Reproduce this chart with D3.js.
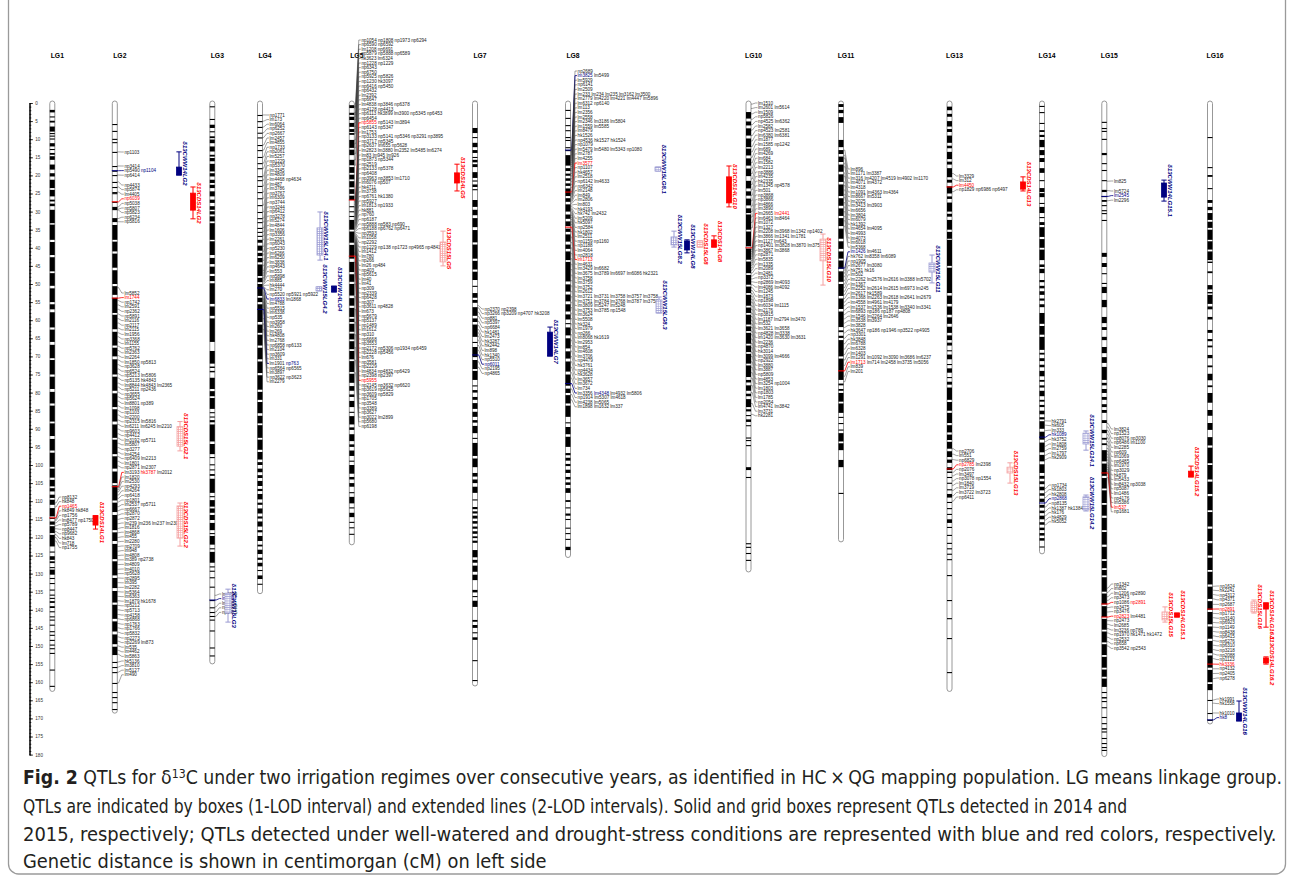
<!DOCTYPE html>
<html>
<head>
<meta charset="utf-8">
<script src="https://cdn.jsdelivr.net/npm/d3@7"></script>
<style>
  body { margin: 0; background: #fff; }
  svg { display: block; }
</style>
</head>
<body>
<svg id="chart" width="1293" height="879"></svg>
<script>
// ---- linkage groups ----
const lgNames = ['LG1', 'LG2', 'LG3', 'LG4', 'LG5', 'LG7', 'LG8', 'LG10', 'LG11', 'LG13', 'LG14', 'LG15', 'LG16'];
const lgLengths = [162, 168, 154.4, 135, 121.5, 160.5, 125, 129, 120.7, 162, 124, 180, 171];
const axisTicks = [0, 5, 10, 15, 20, 25, 30, 35, 40, 45, 50, 55, 60, 65, 70, 75, 80, 85, 90, 95, 100, 105, 110, 115, 120, 125, 130, 135, 140, 145, 150, 155, 160, 165, 170, 175, 180];

// marker bands on each linkage group (cM); a number is a single marker, a pair is a run of markers
const bandsLG1 = [[1.9,2.6],3.7,[4.9,5.4],[6.5,7.9],[8.3,8.6],[9.0,9.3],[9.8,10.1],[11.1,12],12.7,[13.8,14.3],[14.7,15.7],[17,18.4],[19.4,20.3],[21.2,23.5],[24,25.8],[26.7,27.2],[27.8,28.5],[29.5,33.2],[33.6,37.8],[38.4,42],[42.6,46.5],[47,50.5],[51.2,55],[55.6,57],[57.8,62],[62.6,66],[66.8,70.5],[71,75],[75.6,79],[79.8,83],[83.6,88],[88.5,92],[92.8,96],[96.6,100.5],[101,103.5],[104.1,105.9],[106.4,107.3],[108.2,109.1],[109.6,111],[111.9,114.2],114.6,[115.6,116.5],[116.9,118.8],[119.3,122.5],123.9,[125.2,126.2],[126.6,127.1],128.2,[128.9,130.3],131.2,132.6,134.4,135.8,136.7,[137.6,138.1],[139,139.5],140.4,141.8,142.7,144.1,145.9,146.9,148.3,149.6,150.6,151.9,156.5,161];
const bandsLG2 = [5.8,7.7,9.9,[10.8,11.1],13.5,17.4,18.7,19.9,21.8,23.2,24.6,24.9,27.3,28.7,[29,29.6],[31.8,32.9],[33.7,37.8],[38.3,41],[41.6,45.5],[46.2,50],[50.6,53],[53.8,58],[58.5,62.5],[63.2,67],[67.6,70],[70.8,75],[75.6,79.5],[80.2,84],[84.6,88],[88.8,92.5],[93,97],[97.6,101],[101.8,105],[105.6,109.8],[110.4,113],[113.8,118],[118.6,121],[121.8,126],[126.6,130.5],[131.2,134],[134.8,138],[138.6,142.5],[143.2,146],[146.8,149.5],[150.2,152.5],154.4,155.8,157.2,160.2,162.7,164.1,165.5,167.4];
const bandsLG3 = [0.9,4.4,[6,6.9],7.8,[9.2,9.7],[10.1,11.1],[12,13.4],[14.3,14.8],[15.2,16.1],[16.8,18.9],[19.4,20.3],[21.2,22.1],[22.6,23.5],[24.4,25.8],[26.7,27.6],[28.5,29.5],[29.9,30.8],[31.3,32.7],[33.2,37.8],[38.2,42],[42.8,44.5],[45.2,47.2],[47.8,49.2],[49.8,55.5],[56.2,58.8],[59.5,66],[68.5,72],[72.8,73.2],[74,74.4],[75.9,79],[79.6,81],[81.5,84.5],85.4,86.6,[87.6,88.2],[88.8,93.5],[94.2,97],97.8,99.8,101.2,[102.5,103],[103.8,107.7],108.6,[109.7,111.5],[112,113.2],[113.8,115.2],[116,118],118.8,[119.6,122],123,[124,127],128,129.2,131,133.6,137.3,139.3,140.6,141.7,142.7,145.7,150.4,152.6];
const bandsLG4 = [3.3,5,6.6,8.2,9.5,11.6,13,14.9,16.6,18,20.2,21.3,22.9,24.6,26.3,28.2,30.1,31.8,32.9,34.5,35.6,36.7,[37.8,38.6],[39.4,40.8],[41.4,42.3],[42.8,44],[44.6,47.8],[48.3,49.5],[50,53.3],[53.8,55],[55.6,60.5],[61.2,63.5],[64,67],[67.6,70.8],[71.4,74.6],[75.2,79.2],[79.8,82],[82.6,85.7],[86.4,88.5],[89,92.5],[93,95.8],[96.4,98.5],[99.2,100],[101,102],[102.8,103.6],[104.4,105.8],[106.6,107.2],[108,109.5],[110.4,111],[112,113.4],[114.2,114.8],[115.6,117],[118,118.6],[119.6,121],[122,122.5],[123.4,124.6],[125.6,126.2],[127,128],129,[130.5,131.5],132.8];
const bandsLG5 = [[0.6,1.4],[2.7,3.3],[3.8,4.7],[5.5,6.6],[7.2,8],[8.3,8.8],[10.2,12.4],[12.9,14.4],[15.7,17.2],[17.7,19.3],[19.8,21.1],[21.6,23.3],[23.8,25.1],[25.6,26.8],28.5,29.9,31.2,[32.3,35],[35.5,38.6],[39.2,43],[43.9,46.7],[47.3,49.4],[50,53.2],[53.9,56],[56.6,59.1],[59.6,60.5],[61,63.2],[63.7,65.3],[65.8,68],[68.5,70.8],[71.3,74.3],[74.8,77.3],[78.2,79.5],[80.5,81.2],[82.3,84],85.3,[86.5,88.8],[89.6,90.3],[91.5,93.4],[94.3,95],[96,97.5],98.8,[100,102.4],[103.3,104],[105,106],107.5,[108.8,110.6],111.7,[113.2,114.4],115.7,117.2,119];
const bandsLG7 = [[6.9,8.3],9.4,[11,12.2],[13,13.8],14.9,[15.7,16.4],[16.9,17.7],[19.1,20.7],21.4,[22.5,23.2],23.8,[26.8,28.7],[29.5,31],[31.8,34.3],[35.1,38.5],[39.1,43],[43.6,46],[46.6,48.9],50.5,[52.5,53.8],[54.4,55.2],[56.4,58.8],[59.5,60.5],[61.2,64.6],66,[67.4,70.2],[71,73.5],[74,76.5],78,[79.3,80],[81.2,82],[82.9,84.5],[85.3,86.7],[87.6,88.3],[89.2,91.2],92.5,[93.9,97.5],[98.2,100.6],[102.2,103.2],[104,105],[106,107.7],109.5,[111.6,112.2],[112.8,113.4],[114,114.8],[115.5,116.2],[117,117.6],[118.3,119],[119.7,120.2],[120.9,121.5],[123.5,125.5],[126.2,127],[127.8,129.5],[130.3,131.8],[134.5,135.2],136.2,[137.5,139.2],[142.8,143.3],[144.2,145],146.2,[147.6,148.3],153.9,159.4];
const bandsLG8 = [1.9,4.1,6.1,7.5,9.4,10.2,12.2,13,[14.4,17.3],[18,18.8],[19.5,20.1],[20.8,21.5],[22.2,22.9],[23.6,25.7],[26.3,27.3],[28,30],[30.8,32],[32.7,34],[34.7,35.6],[36.3,38.3],[39.1,40.3],[41,43.4],[43.9,49.3],[50.1,52.1],[52.9,54.8],[55.6,57.6],[58.4,59.8],60.8,[62,64.2],[65,67.8],[68.6,70.6],[71.4,74.2],[75,78.1],[78.9,80.1],[80.7,83],[83.6,86.7],88.2,[89.5,91.5],[92.2,95],[96.7,97.3],[98,98.8],[99.7,100.3],[101.3,102.2],[103.3,104],[104.8,105.5],[106.4,107.7],[109.7,110.2],111.7,[113.4,114],114.9,117.3,118.8,120.4,[122.6,123.5]];
const bandsLG10 = [[2.5,4.3],[5.1,6.2],[7,9],[9.8,12.2],[12.6,14.5],[15.3,17.3],[18.1,20.2],[21.5,23.6],[24.4,25.6],[26.4,28.3],[29.1,30.4],[30.8,35],[35.5,39.6],[40.2,43.3],[43.8,47],[47.5,50.2],[50.7,52.5],[53,56],[56.5,58],[58.5,61.2],[61.7,63],[63.5,66.5],[67,68.8],[69.3,72],[72.5,75.7],[76.5,77.2],[78,79.5],[80.3,81],[81.8,84],[84.6,85.2],86.2,[87.4,88.1],89,92.4,93.1,94.5,[100.6,101.4],103.3,121.6,122.6,124.3,126.2];
const bandsLG11 = [[0.3,1.1],[1.9,2.8],[3.9,5.5],[10.2,12.2],[13,14.1],[14.8,16.3],[17,19],[19.7,21.8],[22.5,25.7],[26.3,28.4],[29.1,31.2],[31.8,34],[34.7,37.5],[38.2,40.3],[41,43],[43.5,45.8],[46.5,49.4],[50,53.3],[54,56.9],[57.6,61.9],[62.8,63.3],[64.3,64.9],[65.5,70],[70.6,76.5],[77.5,78],[79,79.5],[80.1,82.5],[83,85.6],86.7,88.4,90.2,[91.2,93.5],[94,95.9],[98.6,100.6],107.7];
const bandsLG13 = [[1,2],[3,3.8],[5,6.5],[7.2,8],[9,11],[11.8,12.5],[13.5,15.5],[16.2,17],[18,20.5],[21.2,22],[23,25],[25.8,26.5],[27.5,30],[30.6,31.4],[32.3,35],[35.6,37.5],[37.8,45],[45.5,52.5],[53.2,55.5],[56.2,58.5],[59.2,61],[61.8,63.5],[64.2,65.5],[66.2,67],68.3,[69.5,70.8],72.1,[73.3,74.5],75.7,[77,77.8],[78.6,82],[82.6,85],[85.6,88.4],[89,91],[91.6,93.1],[93.6,95.5],[96.2,97.8],[98.5,99.4],[100.6,101.4],[101.8,102.2],103.3,104.9,106.7,[108,109],110.2,111.9,113.5,[115,116],117.1,119.3,121.5,123,124.5,126,130.4,137.3,142.3,147.8,157.2];
const bandsLG14 = [0.8,2.5,5.5,[7.5,8],[8.8,9.4],[10.2,12.2],[13,14.4],[15.2,16.3],[18,19.3],21.3,[23.5,24.6],[24.9,26],27.6,[28.7,30.4],31.5,[32.9,33.7],[34.3,37],[37.6,40],[40.5,43.4],[44.6,45.3],[45.8,47],[48.9,49.5],[50.5,51.2],[52,53],[54,54.6],[55.6,56.4],[58,61],[61.6,64],[64.6,68.2],[69,69.5],[70.5,71.3],[72.3,73],[74,75.5],[76.5,77],[78,78.6],[79.5,81],[82,82.5],[83.4,84],[85,86],[86.8,87.4],[87.9,90],[90.8,93],[93.8,96.5],[97.2,99],[99.8,102.2],[103,103.8],[104.5,105.3],[106,107],[107.8,108.5],[109.3,110.2],[111,111.8],[112.6,113.3],[114,115],[115.8,116.5],[117.3,118],[118.8,119.5],[120.2,120.9],122.5];
const bandsLG15 = [[5.2,5.5],[6.9,7.2],[7.7,8],9.9,[13.8,14.4],16.6,18.5,21.3,[24,24.6],25.7,[26.8,27.3],28.2,29.6,30.4,32.3,[41.4,42.5],[44.2,45.3],47,49.7,[50.8,52.5],[54.4,56.4],[59.1,60.8],[61.9,62.7],[64.6,65.5],[67.4,69.1],[70.2,71.8],[72.9,76.5],[77.3,78],[79,80.1],[81.2,82],[83.2,84],[84.8,85.6],[87.6,88.4],[90.3,91.2],[92.5,93],[94,94.5],[95.9,99],[99.6,103],[103.6,106.5],[107,110.5],[111,114],[114.6,118],[118.5,122],[122.6,126],[126.5,128.5],[129,130.5],[131,135],[135.5,138.5],[139,142],[142.5,145.5],[146,149],[149.5,152.5],[153,156],[156.5,158.5],[159,161.3],162.7,[164.1,164.5],165.2,166.9,169.6,171.3,[172.7,173.1],173.6,175.4,176.8,177.9,178.7];
const bandsLG16 = [9.4,17.7,[19.9,20.4],23.5,[26.8,27.6],[28.7,29.6],[30.4,32.3],[32.8,34.5],[35,37.8],[38.2,40.5],[41,43.4],[43.8,44.2],[46.5,47],[50.3,51.5],[52.2,52.6],[53,55.5],[56.2,57],[59.1,59.8],[62.7,63.5],[65.2,65.8],[67,67.5],[69.6,70.5],[72.5,73],[74.8,76.6],[78,78.5],[80.1,82.8],[84.8,86.4],[88.4,90.3],[92.3,94.6],[95.2,99.5],[100,104],[104.6,108],[108.6,112.5],[113,117],[117.6,121],[121.6,125],[125.6,129],[129.5,133],[133.6,137],[137.6,140],[140.6,144],[144.6,148],[148.6,152],[152.6,156],[156.6,160],[160.5,162.2],164.9,168.5,170.4];

// ---- marker labels (name rows) and the position of the marker each row points to (cM) ----
const lg1Markers = ['np8132','hk848','np1465','hk849 hk848','np1756','lm8477 np1750','np5789','np8447','np9682','hk843','lm718','np1755'];
const lg1MarkerCM = [110.5,111.6,114.6,115.0,115.4,116.0,116.8,117.6,118.4,119.2,120.0,121.0];
const lg2MarkersA = ['np1103'];
const lg2MarkerCMA = [13.5];
const lg2MarkersB = ['np3414','np5490 np1104','np6414'];
const lg2MarkerCMB = [17.4,18.7,19.9];
const lg2MarkersC = ['np4433','np5874','lm4405','np6039','np5038','np5807','np5823','np6234','np5816'];
const lg2MarkerCMC = [21.8,23.2,24.6,27.3,28.7,29.3,29.6,31.9,32.8];
const lg2MarkersD = ['lm5852','lm1744','np1742','lm2591','np2362','np5891','lm2116','np2117','lm2115','lm1956',
  'np3368','lm1155','np5762','lm2363','lm2264','lm1850 np5813','np3628','np6524','np5213 lm5806','np5135 hk4843',
  'lm8844 hk4843 lm2365','np5211 np2436','np3655','np5624','lm8801 np389','lm1098','np1103','lm2200','np2315 lm5816','lm6211 lm6245 lm2210',
  'np9603','np4412','lm3192 np5711','lm5807','np3277','lm4254','np6409 lm2213','lm1801','np2871 lm2307','lm3193 hk3787 lm2012',
  'lm1820','lm2530','np4293','lm4264','np6418','np1801','lm2537 np5711','np6667','np2870','np2872',
  'lm239 lm236 lm237 lm230','lm1816','lm4868','lm455','lm2280','np2709','lm948','lm4808','lm389 np2738','lm4809',
  'lm4010','np5628','np2895','lm395','lm2282','lm5364','lm6363','lm1879 hk1678','np5212','np5713',
  'np4158','np6868','np1763','np1766','np5832','np2273','np2269 lm873','lm535','lm4462','lm5863',
  'hk5136','lm3810','lm5127','lm490'];
const lg2MarkerCMD = [51.0,53.9,54.6,55.8,57.0,58.3,59.6,60.8,62.2,63.5,64.6,66.0,67.2,68.4,69.8,71.0,72.3,73.5,74.8,76.0,
  77.4,78.5,79.9,81.2,82.4,83.7,85.0,86.2,87.6,88.8,90.1,91.4,92.6,94.0,95.2,96.5,97.7,99.0,100.3,106.0,
  106.3,106.8,107.4,108.3,109.2,110.2,111.5,112.6,113.8,115.0,116.2,117.5,118.7,120.0,121.2,122.5,123.8,125.0,126.2,127.5,
  128.8,130.0,131.2,132.5,133.8,135.0,136.3,137.5,138.8,140.0,141.3,142.5,143.8,145.0,146.2,147.5,148.7,150.0,151.2,152.3,
  154.4,155.8,157.2,160.2];
const lg3Markers = ['lm4299','lm2847','lm3001','np3502','np1425'];
const lg3MarkerCM = [136.0,137.3,139.2,140.6,141.8];
const lg4Markers = ['np1771','lm173','lm6064','np6252','np2667','lm2457','lm4855','np1733','np2061','lm5257',
  'np1229','np5370','lm3345','lm4809','lm4468 np4634','lm487','lm3786','np3767','lm6309','np3744',
  'np3244','np6412','np3278','lm5274','lm4844','lm1606','np3356','lm2261','np6043',
  'np5230','lm6266','lm6250','lm3838','np4643','lm553','np5898','lm885','hk4444','lm270',
  'np5520 np5921 np5922','lm6833 lm1868','lm4788','np5515','lm6338','np535','np3958','lm260','lm269','hk4808',
  'lm2768','np6858 np6133','lm2104','np3609','lm331','lm1901 np763','np6564 np6565','lm3897','np3622 np3623','lm2279'];
const lg4MarkerCM = [3.3,5.0,6.6,8.2,9.5,11.6,13.0,14.9,16.6,18.0,20.2,21.3,22.9,24.6,26.3,28.2,30.1,31.8,32.9,34.5,
  35.6,36.7,37.8,39.6,41.0,42.0,43.5,45.0,46.3,
  47.0,47.6,48.2,48.6,49.0,49.4,49.8,50.1,50.4,50.7,50.9,51.1,51.5,51.9,52.3,52.7,53.1,53.5,53.9,54.3,
  54.7,55.1,55.5,55.9,56.3,57.0,58.0,59.5,61.0,62.5];
const lg5Markers = ['np1054 np1808 np1973 np6294','np6590 np6592','lm1208 np6691','np5879 np5888 np6589','hk3623 lm6324','np1228 np1229','np6343','np6750','np5925 np5826','np1230 hk3097',
  'np6416 np5450','np6432','lm2392','np6647','lm4838 np3846 np6378','np4128 np4413','np6113 hk3899 lm3900 np5345 np6453','np6454','np5855 np5143 lm3894','np6143 np5347',
  'lm1753','np3133 np5141 np5346 np3291 np3895','np3717 np5345','np2637 lm655 np5628','lm2823 lm3880 lm2352 lm5485 lm6274','lm83 lm945 lm926','np1873 np5344','np2519','np2133 np5378','np6408',
  'np3963 np3853 lm1710','lm6076 np507','hk4711','lm3738','np6761 hk1380','np5927','lm1813 np1933','hk881','np760','np6187',
  'np5888 np583 np690','np6188 np6762 np6471','np3593','lm1058','np2292','np1229 np138 np1723 np4965 np4841','lm1412','lm780','np266','lm26 np484',
  'np403','np5615','lm40','lm41','np309','np2339','np6428','np307','np3611 np4828','lm673',
  'np5679','np5137','np1489','lm1612','np310','np6668','np3553','np2172 np5306 np1934 np6459','np2228 np5456','lm676',
  'np3581','np2229','lm4834 np4832 np6429','np2398 np2397','np5955','np2145 np3632 np6620','np3619 np5625','np3609 np5829','np1705','np3548',
  'np3389','np3627','np3022 lm2899','np5680','np6198'];
const lg5MarkerCM = [0.3,1.0,1.4,2.7,3.3,3.8,4.7,5.5,6.6,7.2,8.0,8.5,10.2,11.3,12.4,14.0,15.7,17.2,26.8,
  27.2,27.6,28.0,28.5,28.9,29.3,29.8,30.2,30.6,31.0,31.4,31.8,32.2,32.6,33.0,33.3,33.6,33.9,34.2,34.5,
  34.8,35.1,35.4,35.7,36.0,36.3,36.6,36.9,37.2,37.5,37.8,38.1,38.4,38.6,38.8,39.0,39.2,39.4,39.6,39.8,
  40.0,40.2,40.4,40.6,40.8,41.0,41.2,41.3,41.4,41.5,41.6,41.7,41.8,41.9,42.0,42.3,
  44.0,47.0,50.0,53.5,57.0,60.5,64.0,67.5,71.0,74.5];
const lg7Markers = ['np2370 np2398','np3266 np3209 np4707 hk3208','np881','np5397','np6684','hk1481','lm2473','hk3287','hk2442','lm898','hk1340','np5510','np6011','np2195','np4865'];
const lg7MarkerCM = [56.0,56.6,57.8,59.0,60.3,61.5,62.6,63.5,64.4,65.5,67.0,68.3,69.6,71.5,73.0];
const lg8Markers = ['np2689','lm3825 lm5499','lm5929','np6141','lm2509','lm233 lm234 lm235 lm3162 lm3500','lm2779 lm4220 lm4221 lm4447 lm5896','lm6312 np6140','lm113','lm2356',
  'lm2558','lm2346 lm3186 lm5804','lm1559 lm5585','lm8479','hk1526','np4536 hk1527 hk1524','np1079','lm5479 lm5480 lm5343 np1080','lm2787','lm4255',
  'lm3577','np1107','hk4657','lm2518','np6142 lm4633','np6342','lm2148','lm849','lm2806','lm803',
  'hk4193','hk742 lm2432','lm5209','hk5097','np2584','hk1802','lm2511','np1159 np1160','np1188','lm4064',
  'np2818','lm1713','lm4631','lm3429 lm6682','lm3675 lm3789 lm6697 lm6086 hk2321','lm3758','lm3759','lm3752','lm2612','lm3721 lm3731 lm3758 lm3757 lm3758',
  'lm3751 lm3784 lm3768 lm3787 lm3758','lm3809 lm5247 lm5248','lm3753 lm3785 np1548','lm3624','lm5508','hk324','lm1979','np266','lm8068 hk1619','lm2953',
  'lm854','lm4608','lm3706','np4479','hk3761','np4434','hk3628','lm3657','lm3672','lm734',
  'lm3356 lm4348 lm4932 lm5806','np1914 lm5307 lm4618','lm4238 lm5065','lm1898 lm1632 lm337'];
const lg8MarkerCM = [12.5,13.0,13.4,13.8,14.2,14.6,15.0,15.5,16.0,16.5,17.0,17.6,18.2,18.8,19.5,20.2,21.0,21.8,22.6,23.4,
  24.6,25.0,25.4,25.8,26.2,26.6,27.0,27.4,27.8,28.2,28.6,29.0,29.4,29.8,30.2,30.6,31.0,31.6,32.2,32.8,33.5,
  34.3,35.5,37.0,38.5,40.0,41.5,43.0,44.5,46.0,47.5,49.0,50.5,52.0,53.5,55.0,56.5,58.0,59.5,61.0,62.5,
  64.0,65.5,67.0,68.5,70.0,71.5,73.0,74.5,76.0,77.5,79.0,80.5,82.0];
const lg10Markers = ['lm1510','lm2601 lm5614','lm1509','np5826','np4525 lm6362','lm2582','np4523 lm2581','lm6380 lm6381','lm1877','lm1585 np1242',
  'lm689','lm4269','lm684','lm1582','lm2213','np3886','lm4235','hk2335','lm1345 np4578','lm501',
  'np3868','np3866','lm4866','lm3890','lm2665 lm2441','lm6463 lm8464','lm1072','lm1327','lm2208 lm3968 lm1342 np1402','lm3866 lm1341 lm1781',
  'lm1127 lm643','np1401 lm3828 lm3870 lm3752','lm3867 lm3868','np2871','lm5835','lm1335','lm2089','lm2481','np3372','np2869 lm4093',
  'lm4086 lm4092','lm1245','lm1873','np1898','lm6034 lm1115','lm2176','np3815','lm1187 lm2794 lm3470','lm532','lm3621 lm3658',
  'np4828 lm3338','lm1420 lm3630 lm3631','lm2236','np4870','hk3014','lm3099 lm4666','np2922','lm3880','lm3887','np5809',
  'lm4853','lm3254 np1004','lm1803','np1803','lm1785','np2054','lm4741 lm3842','lm3731','hk2281'];
const lg10MarkerCM = [0.3,1.5,3.0,4.5,6.0,7.5,9.0,10.5,12.0,13.5,15.0,16.5,18.0,19.5,21.0,22.5,24.0,25.5,27.0,28.5,30.0,31.5,33.0,34.5,
  40.0,40.5,41.0,41.5,42.0,42.5,43.0,43.6,44.2,44.8,45.5,46.2,47.0,47.8,48.6,49.4,50.2,51.0,51.8,52.6,53.4,
  54.2,55.0,56.0,57.0,58.0,59.0,60.0,61.0,62.0,63.0,64.0,65.2,66.4,67.6,68.8,70.0,71.5,73.0,74.5,76.0,78.0,80.0,83.0,86.0];
const lg11Markers = ['lm896','lm1171 lm3387','lm316 lm4207 lm4519 lm4902 lm1170','lm4071 lm4372','lm4318','lm1091 lm4363 lm4364','lm8667 lm5311','lm2025','lm3413 lm3903','lm6656',
  'lm3804','lm6079','hk1392','lm4654 lm4095','lm4993','lm4073','lm6018','lm5368','lm1426 lm4611','hk762 lm8358 lm6089',
  'np1905','lm2677 lm3080','hk751 hk16','lm502','lm2262 lm2576 lm2616 lm3388 lm5702','lm1367','lm2252 lm2614 lm2615 lm6973 lm245','lm2617 hk1589','lm1368 lm2263 lm2618 lm2641 lm2679','lm4558 lm4961 lm4179',
  'lm1537 lm1536 lm1538 lm3340 lm3341','lm6893 np186 np187 np4808','lm1546 lm2264 lm2646','lm3538 lm3937','lm3828','hk3647 np186 np1946 np3522 np4905','np3301','hk3848','lm6788','lm6328',
  'lm1403','lm1291 lm1092 lm3090 lm3686 lm6237','lm1713 lm714 lm2458 lm3735 lm5056','lm839','lm201'];
const lg11MarkerCM = [13.0,14.4,15.2,16.6,17.6,19.3,20.2,21.8,22.8,24.0,25.2,26.0,27.5,28.7,30.0,31.3,32.5,34.0,45.6,
  46.2,47.0,48.0,49.0,50.0,51.0,52.0,53.0,54.0,55.0,56.0,57.2,58.4,59.6,60.8,62.0,63.5,65.0,66.5,68.0,69.5,71.0,72.5,74.0,75.5,77.0];
const lg13MarkersA = ['lm3329','lm312','lm4450','np1829 np6986 np6497'];
const lg13MarkerCMA = [19.5,21.0,23.2,24.5];
const lg13MarkersB = ['np2706','lm551','np6829','np2785 lm2398','np2076','lm3497','np3078 np1554','lm1840','lm3719','lm3722 lm3723','np6411'];
const lg13MarkerCMB = [95.5,97.0,98.5,101.1,102.0,103.0,104.4,105.6,107.0,108.5,110.0];
const lg14MarkersA = ['hk2791','hk605','lm333','hk1089','hk3752','lm1808','lm2759','lm1797','hk2909'];
const lg14MarkerCMA = [87.8,89.0,90.5,92.3,93.5,94.8,96.0,97.3,98.5];
const lg14MarkersB = ['np1734','hk1803','hk2808','np2868','np8135','hk1387 hk1384','hk176','hk4829','hk5052'];
const lg14MarkerCMB = [106.5,107.6,109.0,110.5,111.6,112.8,114.0,115.2,116.5];
const lg15MarkersA = ['lm825'];
const lg15MarkerCMA = [21.6];
const lg15MarkersB = ['lm5724','lm2545','lm2296'];
const lg15MarkerCMB = [24.2,25.8,27.0];
const lg15MarkersC = ['lm3824','np1523','np8076 np3030','np6486 lm1100','lm2285','np609','lm1069','np6485','lm1970','np3029',
  'hk879','lm5433','lm8432 np3038','np5087','lm1486','np4176','lm5386','lm537','np1681'];
const lg15MarkerCMC = [88.5,89.5,90.5,91.5,92.5,93.5,94.5,95.4,96.2,97.0,97.8,98.6,99.4,100.0,100.6,101.2,101.7,102.2,103.5];
const lg15MarkersD = ['np1342','lm802','lm1206 np2890','np3473','np1086 np2891','np3475','np3476','np2823 lm4481','np2473','lm2685',
  'lm3236 np789','np1970 hk1471 hk1472','np2532','np658','np3542 np2543'];
const lg15MarkerCMD = [134.0,135.2,136.4,137.4,138.4,139.4,140.6,142.0,143.0,144.0,145.2,146.4,147.6,148.8,150.0];
const lg16MarkersA = ['np1624','hk2241','np4312','np4371','np2687','np2891','np1712','np3140','np6923','np1149',
  'np8438','np6415','np6276','np6310','np3218','np2088','np1123','hk3336','np4132','np2405','np6278'];
const lg16MarkerCMA = [133.5,134.6,135.8,137.0,138.5,139.8,141.0,142.2,143.5,144.8,146.0,147.2,148.5,149.8,151.0,152.2,153.5,155.0,156.3,157.6,159.0];
const lg16MarkersB = ['hk1991','hk1558'];
const lg16MarkerCMB = [164.9,165.8];
const lg16MarkersC = ['hk1010','hk8'];
const lg16MarkerCMC = [168.5,170.4];

// markers linked to QTLs (well-watered / drought stress)
const linkedWW = ['np1104','lm2847','lm6833','np763','np6011','lm3825','lm4348','lm1426','hk1089','np2868','lm2545','hk8'];
const linkedDS = ['np1465','np6039','lm1744','hk3787','np5855','np5955','lm3577','lm1713','lm2441','lm4450','np2785','lm537','np2823','np2891','hk3336'];

// ---- QTLs: 1-LOD box and 2-LOD line (cM) ----
const qtlNames = ['δ13CWW14LG2','δ13CDS14LG2','δ13CDS15LG2.1','δ13CDS15LG2.2','δ13CDS14LG1','δ13CWW15LG3','δ13CWW15LG4.1','δ13CWW15LG4.2','δ13CWW14LG4',
  'δ13CDS14LG5','δ13CDS15LG5','δ13CWW15LG8.1','δ13CWW15LG8.2','δ13CWW14LG8','δ13CDS15LG8','δ13CDS14LG8','δ13CWW15LG8.3','δ13CWW14LG7',
  'δ13CDS14LG10','δ13CDS15LG10','δ13CWW15LG11','δ13CDS14LG13','δ13CDS15LG13','δ13CWW15LG14.1','δ13CWW15LG14.2',
  'δ13CWW14LG15.1','δ13CDS14LG15.2','δ13CDS15LG15','δ13CDS14LG15.1','δ13CDS15LG16','δ13CDS14LG16.1','δ13CDS14LG16.2','δ13CWW14LG16'];
const qtlBox = [[17.7,19.9],[24.9,29.6],[89.4,94.8],[111.3,120.2],[114.0,116.6],[135.4,140.9],[34.5,42.0],[50.8,51.9],[50.6,52.2],
  [19.3,22.1],[38.4,43.9],[17.7,18.8],[37.0,39.2],[38.1,40.6],[38.1,39.8],[37.8,39.8],[54.4,58.0],[63.3,69.9],
  [20.4,27.6],[37.6,43.6],[44.2,46.7],[21.8,23.8],[100.6,102.2],[91.2,94.2],[108.8,112.4],
  [22.1,26.0],[101.7,103.3],[140.6,142.8],[140.9,142.0],[137.8,140.6],[138.1,139.8],[153.3,154.7],[168.5,170.7]];
const qtlInterval = [[13.5,19.9],[23.2,32.0],[88.0,96.1],[110.5,122.4],[114.0,117.7],[134.3,143.4],[30.1,43.4],[50.8,51.9],[50.6,52.2],
  [16.9,24.3],[35.4,45.0],[17.7,18.8],[35.4,39.8],[37.8,41.4],[38.1,39.8],[36.7,39.8],[53.6,58.0],[61.9,69.9],
  [17.4,28.7],[36.2,50.3],[42.0,49.7],[20.4,24.3],[99.4,105.0],[90.6,95.9],[108.3,112.7],
  [21.3,27.1],[100.3,103.3],[139.2,143.4],[140.9,142.0],[137.3,140.9],[138.1,144.8],[153.0,155.0],[165.2,170.7]];
const qtlCondition = ['WW','DS','DS','DS','DS','WW','WW','WW','WW','DS','DS','WW','WW','WW','DS','DS','WW','WW',
  'DS','DS','WW','DS','DS','WW','WW','WW','DS','DS','DS','DS','DS','DS','WW'];
const qtlYear = [2014,2014,2015,2015,2014,2015,2015,2015,2014,2014,2015,2015,2015,2014,2015,2014,2015,2014,
  2014,2015,2015,2014,2015,2015,2015,2014,2014,2015,2014,2015,2014,2014,2014];

// ---- caption ----
const captionLines = [
  [['b','Fig. 2'],['n',' QTLs for δ'],['s','13'],['n','C under two irrigation regimes over consecutive years, as identified in HC\u2009×\u2009QG mapping population. LG means linkage group.']],
  [['n','QTLs are indicated by boxes (1-LOD interval) and extended lines (2-LOD intervals). Solid and grid boxes represent QTLs detected in 2014 and']],
  [['n','2015, respectively; QTLs detected under well-watered and drought-stress conditions are represented with blue and red colors, respectively.']],
  [['n','Genetic distance is shown in centimorgan (cM) on left side']]
];

// ===================== drawing =====================
const svg = d3.select('#chart');
const markerFont = "'Liberation Sans', Arial, sans-serif";
const wwColor = '#000080', dsColor = '#ff0000';
const wwLight = '#9a9ad2', dsLight = '#f4a0a0';

const y = d3.scaleLinear().domain([0, 180]).range([103, 754.6]);
const lgX = d3.scaleOrdinal().domain(lgNames)
  .range([52.3, 114.8, 212.3, 260, 351.8, 475, 568, 748.5, 841, 949.5, 1042, 1104.3, 1210]);
const lgLen = new Map(lgNames.map((d, i) => [d, lgLengths[i]]));
const bands = new Map([['LG1', bandsLG1], ['LG2', bandsLG2], ['LG3', bandsLG3], ['LG4', bandsLG4], ['LG5', bandsLG5],
  ['LG7', bandsLG7], ['LG8', bandsLG8], ['LG10', bandsLG10], ['LG11', bandsLG11], ['LG13', bandsLG13],
  ['LG14', bandsLG14], ['LG15', bandsLG15], ['LG16', bandsLG16]]);

const defs = svg.append('defs');
[['gridDS', dsLight], ['gridWW', wwLight]].forEach(([id, c]) => {
  const p = defs.append('pattern').attr('id', id).attr('patternUnits', 'userSpaceOnUse')
    .attr('width', 2.2).attr('height', 2.2);
  p.append('rect').attr('width', 2.2).attr('height', 2.2).attr('fill', '#fff');
  p.append('path').attr('d', 'M0,0.3H2.2M0.3,0V2.2').attr('stroke', c).attr('stroke-width', 0.7);
});

// frame
svg.append('rect').attr('x', 8.5).attr('y', -20).attr('width', 1277).attr('height', 894)
  .attr('rx', 10).attr('fill', 'none').attr('stroke', '#9a9a9a').attr('stroke-width', 1.3);

// cM axis
const axisG = svg.append('g').attr('transform', 'translate(29.5,0)');
axisG.append('g')
  .call(d3.axisRight(y).tickValues(d3.range(0, 181, 1)).tickSize(1.8).tickSizeOuter(0).tickFormat(''));
axisG.append('g')
  .call(d3.axisRight(y).tickValues(axisTicks).tickSize(3.4).tickSizeOuter(0).tickPadding(2.4));
axisG.selectAll('path.domain').attr('stroke', '#000').attr('stroke-width', 1);
axisG.selectAll('line').attr('stroke', '#000').attr('stroke-width', 0.8);
axisG.selectAll('text').attr('font-size', 4.6).attr('font-family', markerFont).attr('fill', '#333');

// linkage group titles
svg.append('g').selectAll('text').data(lgNames).join('text')
  .attr('x', d => lgX(d) + 5).attr('y', 57.5)
  .attr('text-anchor', 'middle').attr('font-family', markerFont)
  .attr('font-weight', 'bold').attr('font-size', 6.8).text(d => d);

// chromosomes
const chromW = 5;
const chrom = svg.append('g').selectAll('g').data(lgNames).join('g')
  .attr('transform', d => `translate(${lgX(d)},0)`);
chrom.append('rect')
  .attr('x', -chromW / 2).attr('y', y(0) - 2)
  .attr('width', chromW).attr('height', d => y(lgLen.get(d)) - y(0) + 4)
  .attr('rx', 2.5).attr('fill', '#fff').attr('stroke', '#8c8c8c').attr('stroke-width', 0.9);
chrom.selectAll('rect.band')
  .data(d => bands.get(d).map(b => (typeof b === 'number' ? [b, b + 0.3] : b)))
  .join('rect').attr('class', 'band')
  .attr('x', -chromW / 2).attr('width', chromW)
  .attr('y', d => y(d[0]))
  .attr('height', d => Math.max(1, y(d[1]) - y(d[0])))
  .attr('fill', '#000');

// marker labels with their connectors
const labelGroups = [
  { lg: 'LG1', top: 497, names: lg1Markers, cm: lg1MarkerCM },
  { lg: 'LG2', top: 152, names: lg2MarkersA, cm: lg2MarkerCMA },
  { lg: 'LG2', top: 166, names: lg2MarkersB, cm: lg2MarkerCMB },
  { lg: 'LG2', top: 185, names: lg2MarkersC, cm: lg2MarkerCMC },
  { lg: 'LG2', top: 293, names: lg2MarkersD, cm: lg2MarkerCMD },
  { lg: 'LG3', top: 594, names: lg3Markers, cm: lg3MarkerCM },
  { lg: 'LG4', top: 115, names: lg4Markers, cm: lg4MarkerCM },
  { lg: 'LG5', top: 40, names: lg5Markers, cm: lg5MarkerCM },
  { lg: 'LG7', top: 309, names: lg7Markers, cm: lg7MarkerCM },
  { lg: 'LG8', top: 71, names: lg8Markers, cm: lg8MarkerCM },
  { lg: 'LG10', top: 103, names: lg10Markers, cm: lg10MarkerCM },
  { lg: 'LG11', top: 169, names: lg11Markers, cm: lg11MarkerCM },
  { lg: 'LG13', top: 176, names: lg13MarkersA, cm: lg13MarkerCMA },
  { lg: 'LG13', top: 451, names: lg13MarkersB, cm: lg13MarkerCMB },
  { lg: 'LG14', top: 421, names: lg14MarkersA, cm: lg14MarkerCMA },
  { lg: 'LG14', top: 485, names: lg14MarkersB, cm: lg14MarkerCMB },
  { lg: 'LG15', top: 181, names: lg15MarkersA, cm: lg15MarkerCMA },
  { lg: 'LG15', top: 191, names: lg15MarkersB, cm: lg15MarkerCMB },
  { lg: 'LG15', top: 429, names: lg15MarkersC, cm: lg15MarkerCMC },
  { lg: 'LG15', top: 584, names: lg15MarkersD, cm: lg15MarkerCMD },
  { lg: 'LG16', top: 586, names: lg16MarkersA, cm: lg16MarkerCMA },
  { lg: 'LG16', top: 699, names: lg16MarkersB, cm: lg16MarkerCMB },
  { lg: 'LG16', top: 713, names: lg16MarkersC, cm: lg16MarkerCMC }
];
const rowStep = 4.6;
const wordColor = w => (linkedWW.includes(w) ? wwColor : linkedDS.includes(w) ? dsColor : null);

labelGroups.forEach(g => {
  const cx = lgX(g.lg);
  const rows = g.names.map((name, i) => {
    const words = name.split(' ');
    const colors = words.map(wordColor);
    return { words, colors, hl: colors.find(c => c), ly: g.top + i * rowStep, my: y(g.cm[i]) };
  });
  const gg = svg.append('g');
  gg.selectAll('path').data(rows).join('path')
    .attr('d', r => `M${cx + 2.5},${r.my}H${cx + 3.8}L${cx + 7},${r.ly}H${cx + 9}`)
    .attr('fill', 'none')
    .attr('stroke', r => r.hl || '#333')
    .attr('stroke-width', r => (r.hl ? 0.8 : 0.45));
  gg.selectAll('line').data(rows.filter(r => r.hl)).join('line')
    .attr('x1', cx - 3).attr('x2', cx + 3)
    .attr('y1', r => r.my).attr('y2', r => r.my)
    .attr('stroke', r => r.hl).attr('stroke-width', 1);
  const texts = gg.selectAll('text').data(rows).join('text')
    .attr('x', cx + 9.6).attr('y', r => r.ly).attr('dy', '0.36em')
    .attr('font-family', markerFont).attr('font-size', 4.6).attr('fill', '#222');
  texts.selectAll('tspan').data(r => r.words.map((w, j) => ({ w, c: r.colors[j], j })))
    .join('tspan')
    .attr('fill', d => d.c || '#222')
    .text(d => (d.j ? ' ' : '') + d.w);
});

// QTL boxes, 2-LOD lines and labels
const qtlX = {
  'δ13CWW14LG2': 179, 'δ13CDS14LG2': 193, 'δ13CDS15LG2.1': 180, 'δ13CDS15LG2.2': 180, 'δ13CDS14LG1': 95.5,
  'δ13CWW15LG3': 228, 'δ13CWW15LG4.1': 320, 'δ13CWW15LG4.2': 319, 'δ13CWW14LG4': 334,
  'δ13CDS14LG5': 457, 'δ13CDS15LG5': 443, 'δ13CWW15LG8.1': 658, 'δ13CWW15LG8.2': 674, 'δ13CWW14LG8': 687,
  'δ13CDS15LG8': 700, 'δ13CDS14LG8': 714, 'δ13CWW15LG8.3': 659, 'δ13CWW14LG7': 550,
  'δ13CDS14LG10': 729, 'δ13CDS15LG10': 823, 'δ13CWW15LG11': 932, 'δ13CDS14LG13': 1023, 'δ13CDS15LG13': 1010,
  'δ13CWW15LG14.1': 1086, 'δ13CWW15LG14.2': 1086, 'δ13CWW14LG15.1': 1164, 'δ13CDS14LG15.2': 1191,
  'δ13CDS15LG15': 1165, 'δ13CDS14LG15.1': 1177, 'δ13CDS15LG16': 1254, 'δ13CDS14LG16.1': 1266,
  'δ13CDS14LG16.2': 1266, 'δ13CWW14LG16': 1239
};
const qtls = qtlNames.map((name, i) => {
  const solid = qtlYear[i] === 2014;
  const ww = qtlCondition[i] === 'WW';
  return {
    name, x: qtlX[name], box: qtlBox[i], iv: qtlInterval[i], solid,
    color: ww ? wwColor : dsColor,
    line: solid ? (ww ? wwColor : dsColor) : (ww ? wwLight : dsLight),
    fill: solid ? (ww ? wwColor : dsColor) : (ww ? 'url(#gridWW)' : 'url(#gridDS)'),
    w: solid ? 5 : 6
  };
});
const qg = svg.append('g').selectAll('g').data(qtls).join('g');
qg.append('path')
  .attr('d', d => {
    const a = y(d.iv[0]), b = y(d.iv[1]);
    return `M${d.x},${a}V${b}M${d.x - 2.6},${a}H${d.x + 2.6}M${d.x - 2.6},${b}H${d.x + 2.6}`;
  })
  .attr('stroke', d => d.line).attr('stroke-width', 1).attr('fill', 'none');
qg.append('rect')
  .attr('x', d => d.x - d.w / 2).attr('width', d => d.w)
  .attr('y', d => y(d.box[0]))
  .attr('height', d => Math.max(3, y(d.box[1]) - y(d.box[0])))
  .attr('fill', d => d.fill).attr('stroke', d => d.line).attr('stroke-width', 0.8);
qg.append('text')
  .attr('transform', d => `translate(${d.x + 4.2},${(y(d.iv[0]) + y(d.iv[1])) / 2}) rotate(90)`)
  .attr('text-anchor', 'middle')
  .attr('font-family', markerFont).attr('font-size', 6).attr('font-weight', 'bold').attr('font-style', 'italic')
  .attr('fill', d => d.color)
  .text(d => d.name);

// caption, each line squeezed to the width it has in print
const capBase = [784, 812.5, 840.5, 868];
const capWidths = [1260, 1105, 1254, 524];
captionLines.forEach((segs, i) => {
  const t = svg.append('text')
    .attr('font-family', "'Liberation Sans Narrow', 'DejaVu Sans Condensed', 'Open Sans', sans-serif")
    .attr('font-size', 19).attr('fill', '#231f20');
  segs.forEach(([k, s], j) => {
    const ts = t.append('tspan').text(s);
    if (k === 'b') ts.attr('font-weight', 'bold');
    if (k === 's') ts.attr('font-size', 12).attr('dy', -6.5);
    if (j > 0 && segs[j - 1][0] === 's') ts.attr('dy', 6.5);
  });
  const w = t.node().getComputedTextLength();
  t.attr('transform', `translate(23,${capBase[i]}) scale(${capWidths[i] / w},1)`);
});
</script>
</body>
</html>
